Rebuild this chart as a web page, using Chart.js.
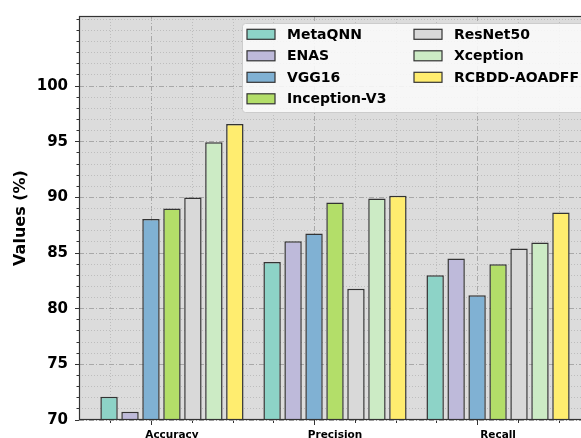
<!DOCTYPE html>
<html>
<head>
<meta charset="utf-8">
<script src="https://cdn.jsdelivr.net/npm/chart.js@4.4.0/dist/chart.umd.min.js"></script>
<style>
  html, body { margin: 0; padding: 0; background: #fff; overflow: hidden; }
  #wrap { width: 600px; height: 445px; }
</style>
</head>
<body>
<div id="wrap"><canvas id="metricsChart" width="600" height="445"></canvas></div>
<script>
// Data
const metrics = ['Accuracy', 'Precision', 'Recall'];
const models = ['MetaQNN', 'ENAS', 'VGG16', 'Inception-V3', 'ResNet50', 'Xception', 'RCBDD-AOADFF'];
const metaqnn = [72.1, 84.2, 83.0];
const enas = [70.75, 86.05, 84.5];
const vgg16 = [88.05, 86.75, 81.2];
const inceptionV3 = [89.0, 89.55, 84.0];
const resnet50 = [90.0, 81.8, 85.4];
const xception = [94.95, 89.9, 85.95];
const rcbdd = [96.6, 90.15, 88.65];
const yTickLabels = [70, 75, 80, 85, 90, 95, 100];
const colors = ['#8dd3c7', '#bebada', '#80b1d3', '#b3de69', '#d9d9d9', '#ccebc5', '#ffed6f'];

const seriesValues = [metaqnn, enas, vgg16, inceptionV3, resnet50, xception, rcbdd];

Chart.defaults.font.family = '"DejaVu Sans"';

// the bar ruler measures from the 0.25 minor tick spacing, so the group
// takes 3.6 of those steps (= 0.9 of a category)
const datasets = models.map(function(name, i) {
    return {
        label: name,
        data: seriesValues[i].map(function(v, j) { return { x: j, y: v }; }),
        backgroundColor: colors[i],
        borderColor: '#333333',
        borderWidth: 1.5,
        borderSkipped: false,
        barPercentage: 0.83,
        categoryPercentage: 3.6
    };
});

const isMajorX = v => Math.abs(v - Math.round(v)) < 1e-6;
const isMajorY = v => Math.abs(v % 5) < 1e-6 && v <= 100;
const tickVal = c => (c && c.tick) ? c.tick.value : null;

// gray plot background + frame
const plotBox = {
    id: 'plotBox',
    beforeDraw(chart) {
        const a = chart.chartArea, ctx = chart.ctx;
        ctx.save();
        ctx.fillStyle = '#dcdcdc';
        ctx.fillRect(a.left, a.top, a.right - a.left, a.bottom - a.top);
        ctx.restore();
    },
    afterDatasetsDraw(chart) {
        const a = chart.chartArea, ctx = chart.ctx;
        ctx.save();
        ctx.strokeStyle = '#333333';
        ctx.lineWidth = 1.2;
        ctx.strokeRect(a.left + 0.5, a.top + 0.5, a.right - a.left - 1, a.bottom - a.top - 1);
        ctx.restore();
    }
};

// legend box in the upper right of the plot
const boxLegend = {
    id: 'boxLegend',
    afterDraw(chart) {
        const ctx = chart.ctx;
        const x0 = 242, y0 = 23, w = 360, h = 89;
        ctx.save();
        ctx.fillStyle = 'rgba(250,250,250,0.88)';
        ctx.strokeStyle = '#cccccc';
        ctx.lineWidth = 1;
        ctx.beginPath();
        ctx.roundRect(x0 + 0.5, y0 + 0.5, w, h, 3);
        ctx.fill();
        ctx.stroke();
        ctx.font = 'bold 14px "DejaVu Sans"';
        ctx.textBaseline = 'middle';
        chart.data.datasets.forEach(function(ds, i) {
            const col = i < 4 ? 0 : 1;
            const row = i < 4 ? i : i - 4;
            const px = col === 0 ? 247 : 414;
            const cy = 34.3 + row * 21.5;
            ctx.fillStyle = ds.backgroundColor;
            ctx.fillRect(px, cy - 5, 28, 10);
            ctx.strokeStyle = '#333333';
            ctx.lineWidth = 1.2;
            ctx.strokeRect(px, cy - 5, 28, 10);
            ctx.fillStyle = '#000';
            ctx.fillText(ds.label, px + 40, cy + 1);
        });
        ctx.restore();
    }
};

const ctx = document.getElementById('metricsChart').getContext('2d');
const metricsChart = new Chart(ctx, {
    type: 'bar',
    data: { datasets: datasets },
    options: {
        responsive: false,
        animation: false,
        layout: { padding: { top: 15, right: 9, left: 0, bottom: 0 } },
        scales: {
            x: {
                type: 'linear',
                min: -0.57,
                max: 2.57,
                offset: false,
                afterFit: function(scale) { scale.height = 25; },
                ticks: {
                    stepSize: 0.25,
                    includeBounds: false,
                    autoSkip: false,
                    maxRotation: 0,
                    padding: 4,
                    color: '#000',
                    font: { size: 10.5, weight: 'bold' },
                    callback: function(v) { return isMajorX(v) ? metrics[Math.round(v)] : ''; }
                },
                grid: {
                    color: c => { const v = tickVal(c); return v !== null && isMajorX(v) ? '#a8a8a8' : '#bdbdbd'; },
                    lineWidth: 1,
                    tickLength: 5,
                    tickColor: '#333333',
                    tickBorderDash: c => { const v = tickVal(c); return v === null || isMajorX(v) ? [] : [3, 20]; }
                },
                border: {
                    display: false,
                    dash: c => { const v = tickVal(c); return v === null ? [] : (isMajorX(v) ? [5, 2, 1, 2] : [1, 2]); }
                }
            },
            y: {
                min: 70,
                max: 106.3,
                afterFit: function(scale) { scale.width = 79; },
                ticks: {
                    stepSize: 1,
                    includeBounds: false,
                    autoSkip: false,
                    padding: 7,
                    color: '#000',
                    font: { size: 15, weight: 'bold' },
                    callback: function(v) { return yTickLabels.includes(v) ? String(v) : ''; }
                },
                grid: {
                    color: c => { const v = tickVal(c); return v !== null && isMajorY(v) ? '#a8a8a8' : '#bdbdbd'; },
                    lineWidth: 1,
                    tickLength: 4,
                    tickColor: '#333333',
                    tickBorderDash: c => { const v = tickVal(c); return v === null || isMajorY(v) ? [] : [0, 1.5, 2.5, 20]; }
                },
                border: {
                    display: false,
                    dash: c => { const v = tickVal(c); return v === null ? [] : (isMajorY(v) ? [5, 2, 1, 2] : [1, 2]); }
                },
                title: {
                    display: true,
                    text: 'Values (%)',
                    color: '#000',
                    font: { size: 16, weight: 'bold' },
                    padding: { top: 11, bottom: 0 }
                }
            }
        },
        plugins: {
            legend: { display: false },
            tooltip: { enabled: false }
        }
    },
    plugins: [plotBox, boxLegend]
});
</script>
</body>
</html>
